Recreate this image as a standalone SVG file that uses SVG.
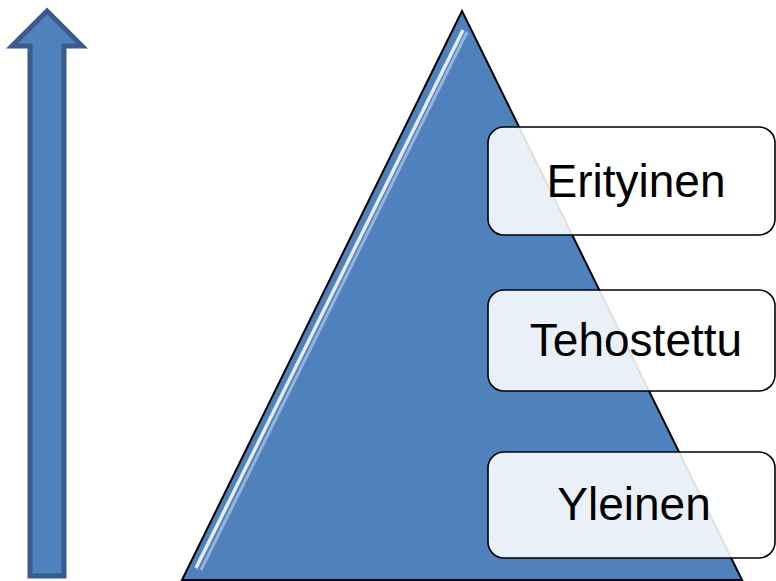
<svg xmlns="http://www.w3.org/2000/svg" width="776" height="581" viewBox="0 0 776 581">
<style>
.box{fill:#ffffff;fill-opacity:0.88;stroke:#000;stroke-width:1.6}
.lbl{font-family:"Liberation Sans",Arial,sans-serif;font-size:46px;fill:#000;text-anchor:middle}
</style>
<g id="arrow">
<polygon points="47,11 82,46 64,46 64,576 30,576 30,46 12,46" fill="#4f81bd" stroke="#385d8a" stroke-width="5" stroke-linejoin="miter"/>
</g>
<g id="pyramid">
<polygon points="462,11 742,580 182,580" fill="#4f81bd" stroke="#000" stroke-width="2"/>
<path d="M463,30 L196,568" stroke="#fff" stroke-width="3.5" stroke-opacity="0.85" fill="none"/>
<path d="M467,32 L201,570" stroke="#dce8f5" stroke-width="3" stroke-opacity="0.5" fill="none"/>
</g>
<g id="erityinen">
<rect class="box" x="488" y="127" width="287" height="108" rx="16"/>
<text class="lbl" x="636" y="197">Erityinen</text>
</g>
<g id="tehostettu">
<rect class="box" x="488" y="290" width="287" height="101" rx="16"/>
<text class="lbl" x="636" y="356">Tehostettu</text>
</g>
<g id="yleinen">
<rect class="box" x="488" y="452" width="287" height="106" rx="16"/>
<text class="lbl" x="634" y="520">Yleinen</text>
</g>
</svg>
